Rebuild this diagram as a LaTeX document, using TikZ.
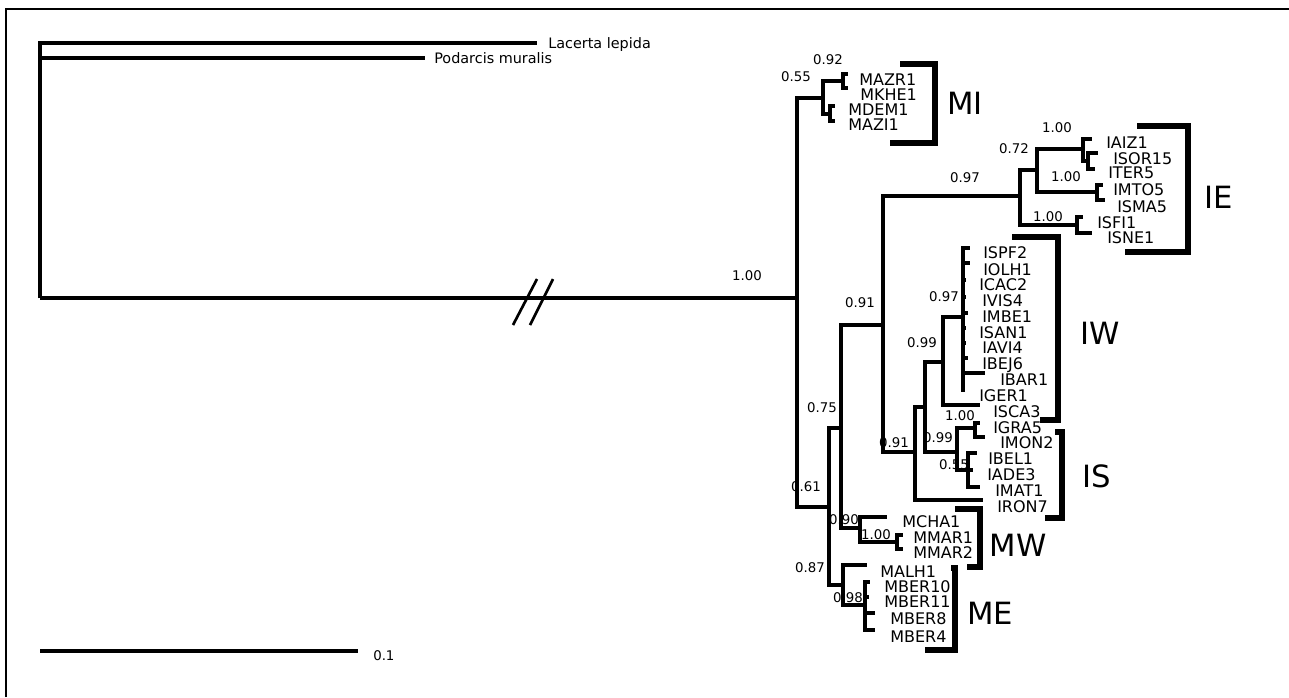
\documentclass[tikz,border=0pt]{standalone}
\usepackage{fontspec}
\setmainfont{DejaVu Sans}
\begin{document}
\begin{tikzpicture}[x=0.75pt,y=-0.75pt,
  tree/.style={line width=2.6pt, line join=miter},
  brk/.style={line width=4pt, line join=miter},
  tip/.style={anchor=west, inner sep=0pt, font=\fontsize{12}{13}\selectfont},
  sup/.style={inner sep=0pt, font=\fontsize{10}{11}\selectfont},
  clade/.style={inner sep=0pt, font=\fontsize{23}{24}\selectfont},
  outg/.style={anchor=base west, inner sep=0pt, font=\fontsize{10.8}{12}\selectfont}]
\useasboundingbox (0,0) rectangle (1289,697);
% frame
\draw[line width=1.8pt] (6,697) -- (6,9) -- (1289,9);
% ---------- internal nodes
\coordinate (R0) at (40,298);
\coordinate (Lac) at (537,43);
\coordinate (Pod) at (425,58);
\coordinate (IN) at (797,298);
\coordinate (nMI) at (823,98);
\coordinate (nMA) at (843,81);
\coordinate (nMD) at (830,114);
\coordinate (n061) at (829,507);
\coordinate (n075) at (841,428);
\coordinate (nME) at (843,585);
\coordinate (n091a) at (883,325);
\coordinate (nMW) at (860,528);
\coordinate (nIE) at (1020,196);
\coordinate (n091b) at (915,452);
\coordinate (n072) at (1037,170);
\coordinate (nSF) at (1077,225);
\coordinate (nAI) at (1083,149);
\coordinate (nMT) at (1097,192);
\coordinate (nSO) at (1088,161);
\coordinate (nA) at (925,407);
\coordinate (n099a) at (943,362);
\coordinate (nIS) at (957,452);
\coordinate (nIW) at (963,317);
\coordinate (nGR) at (975,428);
\coordinate (nBE) at (968,470);
\coordinate (nMM) at (897,542);
\coordinate (n098) at (865,605);
% ---------- tips
\coordinate (tMAZR1) at (848,74);
\coordinate (tMKHE1) at (848,88);
\coordinate (tMDEM1) at (835,106);
\coordinate (tMAZI1) at (835,121);
\coordinate (tIAIZ1) at (1092,139);
\coordinate (tISOR15) at (1098,153);
\coordinate (tITER5) at (1095,169);
\coordinate (tIMTO5) at (1103,185);
\coordinate (tISMA5) at (1105,200);
\coordinate (tISFI1) at (1083,217);
\coordinate (tISNE1) at (1092,233);
\coordinate (tISPF2) at (970,248);
\coordinate (tIOLH1) at (970,263);
\coordinate (tICAC2) at (966,280);
\coordinate (tIVIS4) at (966,297);
\coordinate (tIMBE1) at (968,313);
\coordinate (tISAN1) at (966,328);
\coordinate (tIAVI4) at (966,343);
\coordinate (tIBEJ6) at (968,358);
\coordinate (tIBAR1) at (985,373);
\coordinate (tIGER1) at (963,392);
\coordinate (tISCA3) at (980,405);
\coordinate (tIGRA5) at (980,423);
\coordinate (tIMON2) at (985,437);
\coordinate (tIBEL1) at (977,453);
\coordinate (tIADE3) at (973,470);
\coordinate (tIMAT1) at (980,487);
\coordinate (tIRON7) at (983,500);
\coordinate (tMCHA1) at (887,517);
\coordinate (tMMAR1) at (903,535);
\coordinate (tMMAR2) at (903,549);
\coordinate (tMALH1) at (867,565);
\coordinate (tMBER10) at (870,582);
\coordinate (tMBER11) at (869,597);
\coordinate (tMBER8) at (875,613);
\coordinate (tMBER4) at (875,630);
% ---------- branches
\draw[tree] (R0) |- (Lac);
\draw[tree] (R0) |- (Pod);
\draw[tree] (R0) -- (IN);
\draw[tree] (IN) |- (nMI);
\draw[tree] (IN) |- (n061);
\draw[tree] (nMI) |- (nMA);
\draw[tree] (nMI) |- (nMD);
\draw[tree] (nMA) |- (tMAZR1);
\draw[tree] (nMA) |- (tMKHE1);
\draw[tree] (nMD) |- (tMDEM1);
\draw[tree] (nMD) |- (tMAZI1);
\draw[tree] (n061) |- (n075);
\draw[tree] (n061) |- (nME);
\draw[tree] (n075) |- (n091a);
\draw[tree] (n075) |- (nMW);
\draw[tree] (n091a) |- (nIE);
\draw[tree] (n091a) |- (n091b);
\draw[tree] (nIE) |- (n072);
\draw[tree] (nIE) |- (nSF);
\draw[tree] (n072) |- (nAI);
\draw[tree] (n072) |- (nMT);
\draw[tree] (nAI) |- (tIAIZ1);
\draw[tree] (nAI) |- (nSO);
\draw[tree] (nSO) |- (tISOR15);
\draw[tree] (nSO) |- (tITER5);
\draw[tree] (nMT) |- (tIMTO5);
\draw[tree] (nMT) |- (tISMA5);
\draw[tree] (nSF) |- (tISFI1);
\draw[tree] (nSF) |- (tISNE1);
\draw[tree] (n091b) |- (nA);
\draw[tree] (n091b) |- (tIRON7);
\draw[tree] (nA) |- (n099a);
\draw[tree] (nA) |- (nIS);
\draw[tree] (n099a) |- (nIW);
\draw[tree] (n099a) |- (tISCA3);
\foreach \t in {tISPF2,tIOLH1,tICAC2,tIVIS4,tIMBE1,tISAN1,tIAVI4,tIBEJ6,tIBAR1,tIGER1}
  \draw[tree] (nIW) |- (\t);
\draw[tree] (nIS) |- (nGR);
\draw[tree] (nIS) |- (nBE);
\draw[tree] (nGR) |- (tIGRA5);
\draw[tree] (nGR) |- (tIMON2);
\draw[tree] (nBE) |- (tIBEL1);
\draw[tree] (nBE) |- (tIADE3);
\draw[tree] (nBE) |- (tIMAT1);
\draw[tree] (nMW) |- (tMCHA1);
\draw[tree] (nMW) |- (nMM);
\draw[tree] (nMM) |- (tMMAR1);
\draw[tree] (nMM) |- (tMMAR2);
\draw[tree] (nME) |- (tMALH1);
\draw[tree] (nME) |- (n098);
\foreach \t in {tMBER10,tMBER11,tMBER8,tMBER4}
  \draw[tree] (n098) |- (\t);
% break marks
\draw[line width=2pt] (513,325) -- (537,279);
\draw[line width=2pt] (530,325) -- (553,279);
% ---------- outgroup labels
\node[outg] (lLac) at (548,48) {Lacerta lepida};
\node[outg] (lPod) at (434,63) {Podarcis muralis};
% ---------- tip labels
\node[tip] (lMAZR1) at (859,80) {MAZR1};
\node[tip] (lMKHE1) at (860,95) {MKHE1};
\node[tip] (lMDEM1) at (848,110) {MDEM1};
\node[tip] (lMAZI1) at (848,125) {MAZI1};
\node[tip] (lIAIZ1) at (1106,143) {IAIZ1};
\node[tip] (lISOR15) at (1113,159) {ISOR15};
\node[tip] (lITER5) at (1108,173) {ITER5};
\node[tip] (lIMTO5) at (1113,190) {IMTO5};
\node[tip] (lISMA5) at (1117,207) {ISMA5};
\node[tip] (lISFI1) at (1097,223) {ISFI1};
\node[tip] (lISNE1) at (1107,238) {ISNE1};
\node[tip] (lISPF2) at (983,253) {ISPF2};
\node[tip] (lIOLH1) at (983,270) {IOLH1};
\node[tip] (lICAC2) at (979,285) {ICAC2};
\node[tip] (lIVIS4) at (982,301) {IVIS4};
\node[tip] (lIMBE1) at (982,317) {IMBE1};
\node[tip] (lISAN1) at (979,333) {ISAN1};
\node[tip] (lIAVI4) at (982,348) {IAVI4};
\node[tip] (lIBEJ6) at (982,365) {IBEJ6};
\node[tip] (lIBAR1) at (1000,380) {IBAR1};
\node[tip] (lIGER1) at (979,396) {IGER1};
\node[tip] (lISCA3) at (993,412) {ISCA3};
\node[tip] (lIGRA5) at (993,428) {IGRA5};
\node[tip] (lIMON2) at (1000,443) {IMON2};
\node[tip] (lIBEL1) at (988,459) {IBEL1};
\node[tip] (lIADE3) at (987,475) {IADE3};
\node[tip] (lIMAT1) at (995,491) {IMAT1};
\node[tip] (lIRON7) at (997,507) {IRON7};
\node[tip] (lMCHA1) at (902,522) {MCHA1};
\node[tip] (lMMAR1) at (913,538) {MMAR1};
\node[tip] (lMMAR2) at (913,553) {MMAR2};
\node[tip] (lMALH1) at (880,572) {MALH1};
\node[tip] (lMBER10) at (884,587) {MBER10};
\node[tip] (lMBER11) at (884,602) {MBER11};
\node[tip] (lMBER8) at (890,619) {MBER8};
\node[tip] (lMBER4) at (890,637) {MBER4};
% ---------- support values
\node[sup] (s01) at (747,276) {1.00};
\node[sup] (s02) at (796,77) {0.55};
\node[sup] (s03) at (828,60) {0.92};
\node[sup] (s04) at (965,178) {0.97};
\node[sup] (s05) at (1014,149) {0.72};
\node[sup] (s06) at (1057,128) {1.00};
\node[sup] (s07) at (1066,177) {1.00};
\node[sup] (s08) at (1048,217) {1.00};
\node[sup] (s09) at (860,303) {0.91};
\node[sup] (s10) at (944,297) {0.97};
\node[sup] (s11) at (922,343) {0.99};
\node[sup] (s12) at (960,416) {1.00};
\node[sup] (s13) at (894,443) {0.91};
\node[sup] (s14) at (938,438) {0.99};
\node[sup] (s15) at (954,465) {0.55};
\node[sup] (s16) at (822,408) {0.75};
\node[sup] (s17) at (806,487) {0.61};
\node[sup] (s18) at (844,520) {0.90};
\node[sup] (s19) at (876,535) {1.00};
\node[sup] (s20) at (810,568) {0.87};
\node[sup] (s21) at (848,598) {0.98};
% ---------- clade brackets
\draw[brk] (900,64) -- (935,64) -- (935,143) -- (890,143);
\draw[brk] (1137,126) -- (1188,126) -- (1188,252) -- (1125,252);
\draw[brk] (1012,237) -- (1058,237) -- (1058,420) -- (1040,420);
\draw[brk] (1055,432) -- (1062,432) -- (1062,518) -- (1045,518);
\draw[brk] (955,509) -- (980,509) -- (980,567) -- (967,567);
\draw[brk] (951,568) -- (955,568) -- (955,650) -- (925,650);
\node[clade] (cMI) at (965,103) {MI};
\node[clade] (cIE) at (1219,197) {IE};
\node[clade] (cIW) at (1100,333) {IW};
\node[clade] (cIS) at (1097,476) {IS};
\node[clade] (cMW) at (1018,545) {MW};
\node[clade] (cME) at (990,613) {ME};
% ---------- scale bar
\coordinate (sbA) at (40,651);
\coordinate (sbB) at (358,651);
\draw[line width=3.6pt] (sbA) -- (sbB);
\node[sup, anchor=west] (sbL) at (373,656) {0.1};
\end{tikzpicture}
\end{document}
